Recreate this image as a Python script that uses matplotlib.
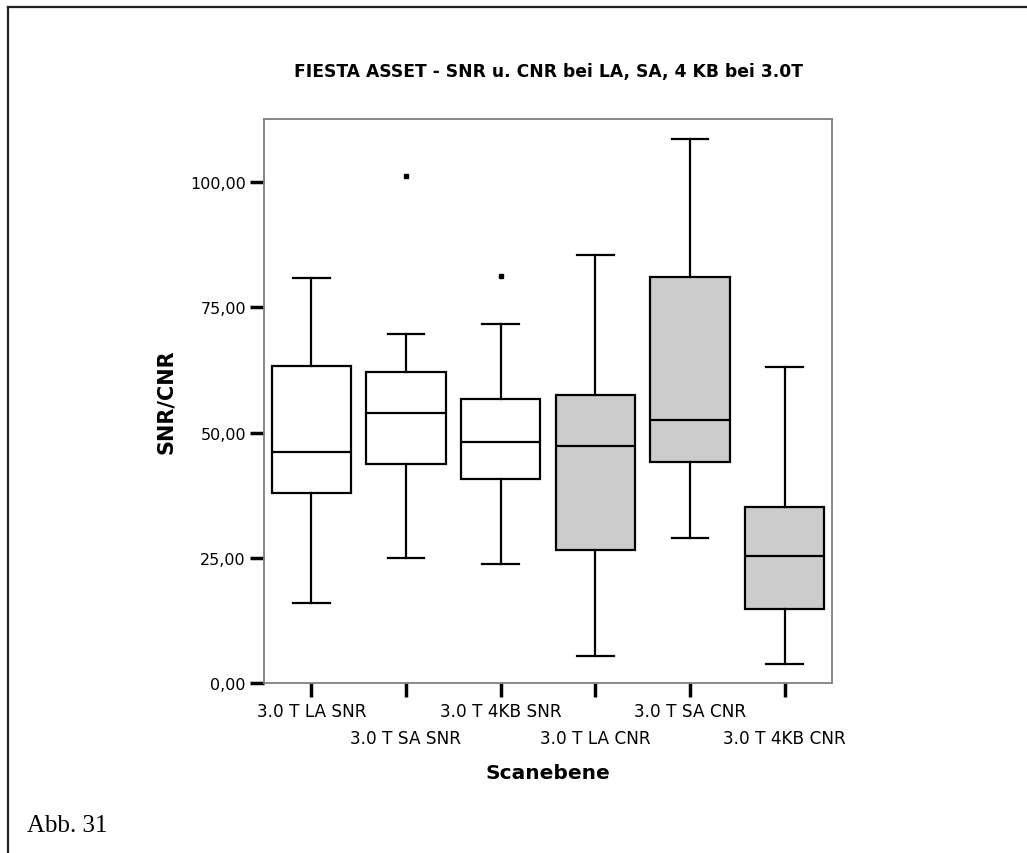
import matplotlib
matplotlib.use("Agg")
import matplotlib.pyplot as plt
from matplotlib.lines import Line2D

# Box statistics (SNR / CNR per scan plane)
categories = ["3.0 T LA SNR", "3.0 T SA SNR", "3.0 T 4KB SNR",
              "3.0 T LA CNR", "3.0 T SA CNR", "3.0 T 4KB CNR"]
whisker_low = [15.9, 24.9, 23.8, 5.4, 28.9, 3.7]
q1 = [37.9, 43.8, 40.7, 26.6, 44.2, 14.7]
median = [46.2, 54.0, 48.2, 47.3, 52.5, 25.3]
q3 = [63.3, 62.1, 56.7, 57.4, 81.1, 35.1]
whisker_high = [80.8, 69.7, 71.7, 85.5, 108.7, 63.0]
outliers = [[], [101.3], [81.3], [], [], []]
box_colors = ["white", "white", "white", "#cccccc", "#cccccc", "#cccccc"]

y_ticks = [0, 25, 50, 75, 100]
y_tick_labels = ["0,00", "25,00", "50,00", "75,00", "100,00"]

stats = []
for i in range(len(categories)):
    stats.append({
        "label": categories[i],
        "whislo": whisker_low[i],
        "q1": q1[i],
        "med": median[i],
        "q3": q3[i],
        "whishi": whisker_high[i],
        "fliers": outliers[i],
    })

fig = plt.figure(figsize=(10.27, 8.54), dpi=100)
ax = fig.add_axes([264 / 1027, 1 - 684 / 854, 568 / 1027, 564 / 854])

positions = list(range(1, len(categories) + 1))
bp = ax.bxp(
    stats,
    positions=positions,
    widths=0.84,
    capwidths=0.39,
    patch_artist=True,
    boxprops=dict(edgecolor="black", linewidth=1.6),
    medianprops=dict(color="black", linewidth=1.6),
    whiskerprops=dict(color="black", linewidth=1.6),
    capprops=dict(color="black", linewidth=1.6),
    flierprops=dict(marker="s", markersize=2.5, markerfacecolor="black",
                    markeredgecolor="black"),
)
for patch, c in zip(bp["boxes"], box_colors):
    patch.set_facecolor(c)

ax.set_xlim(0.5, len(categories) + 0.5)
ax.set_ylim(0, 112.6)

ax.set_yticks(y_ticks)
ax.set_yticklabels(y_tick_labels, fontsize=11.5)

# staggered category labels: odd ones high, even ones low
ax.set_xticks(positions[0::2])
ax.set_xticklabels(categories[0::2], fontsize=12.2)
ax.set_xticks(positions[1::2], minor=True)
ax.set_xticklabels(categories[1::2], minor=True, fontsize=12.2)

ax.tick_params(axis="y", length=10, width=2.5, color="black", pad=3)
ax.tick_params(axis="x", which="both", length=10, width=2.5, color="black")
ax.tick_params(axis="x", which="major", pad=4)
ax.tick_params(axis="x", which="minor", pad=23)

for s in ax.spines.values():
    s.set_color("#808080")
    s.set_linewidth(1.3)

ax.set_xlabel("Scanebene", fontsize=14.5, fontweight="bold", labelpad=12)
ax.set_ylabel("SNR/CNR", fontsize=15, fontweight="bold", labelpad=10)

fig.text(548 / 1027, 1 - 72 / 854, "FIESTA ASSET - SNR u. CNR bei LA, SA, 4 KB bei 3.0T",
         ha="center", va="center", fontsize=12.3, fontweight="bold")

fig.text(27 / 1027, 1 - 826 / 854, "Abb. 31", family="Liberation Serif",
         fontsize=18, ha="left", va="center")

# outer frame (top and left edges visible)
fig.add_artist(Line2D([8 / 1027, 8 / 1027], [0, 1 - 8 / 854], transform=fig.transFigure,
                      color="#222222", linewidth=1.6))
fig.add_artist(Line2D([8 / 1027, 1], [1 - 8 / 854, 1 - 8 / 854], transform=fig.transFigure,
                      color="#222222", linewidth=1.6))

fig.savefig("out.png", dpi=100)
